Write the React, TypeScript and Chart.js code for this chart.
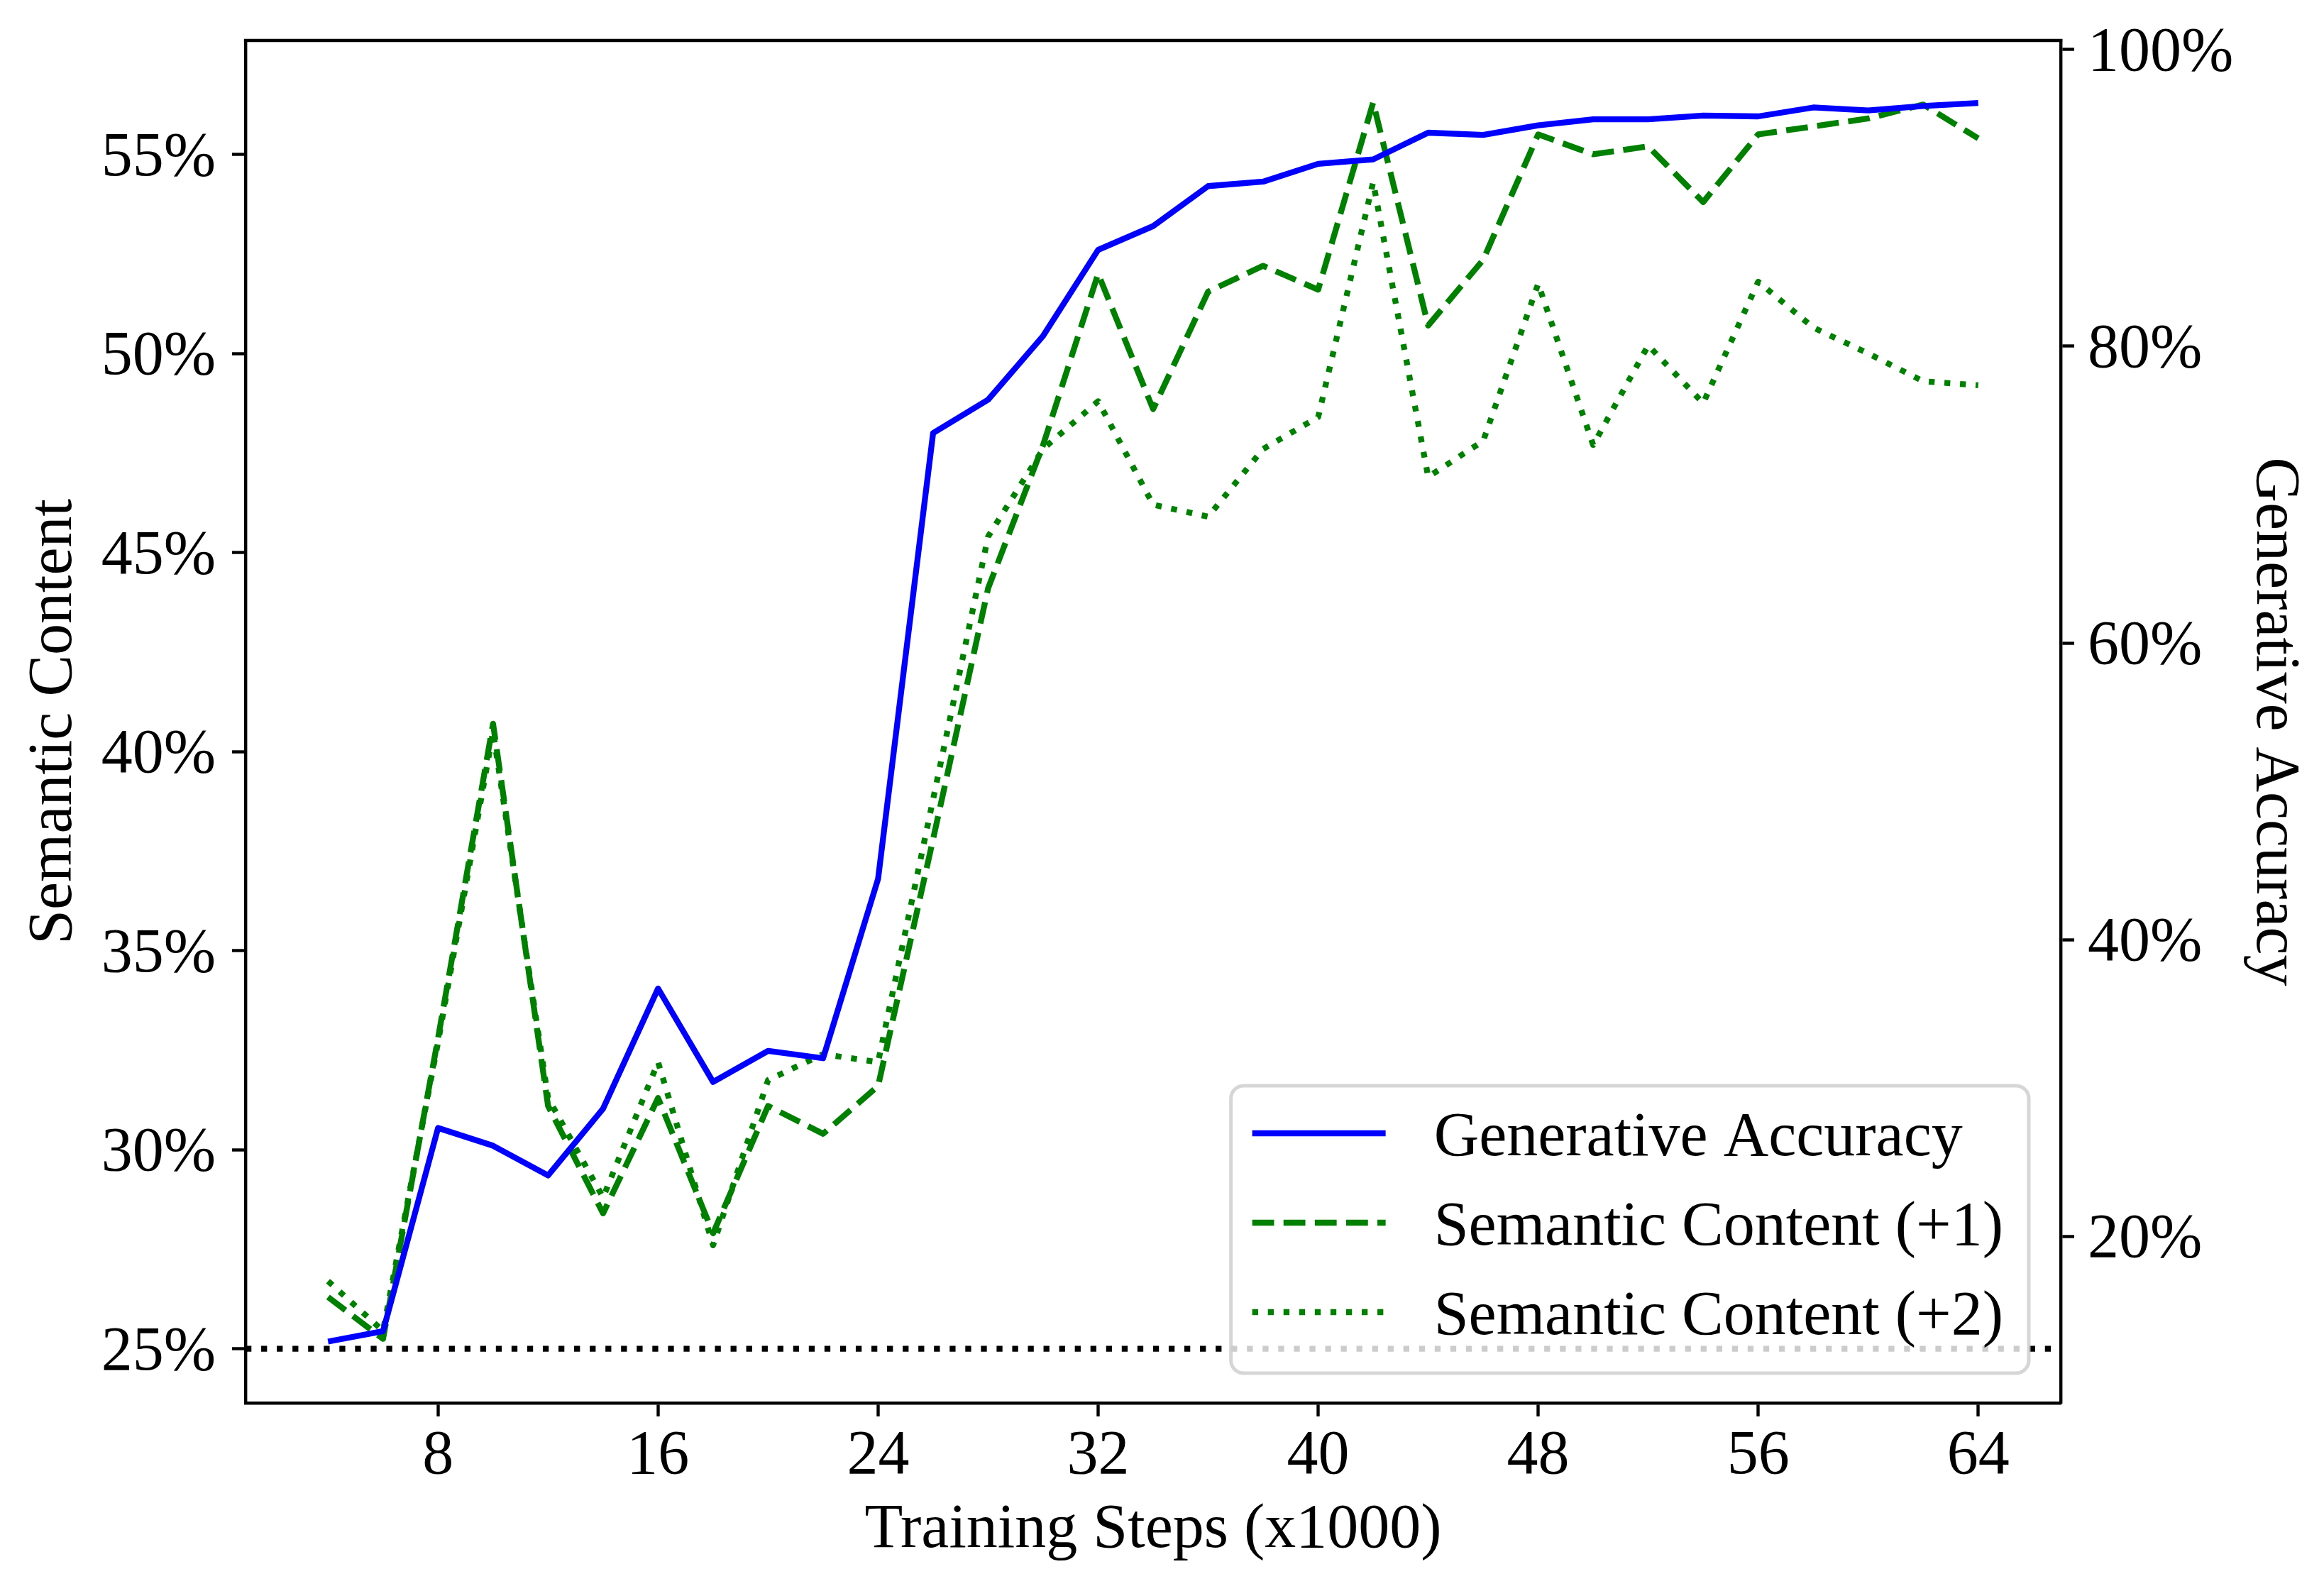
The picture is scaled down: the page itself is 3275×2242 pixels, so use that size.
import { useEffect, useRef } from 'react';
import { Chart, registerables } from 'chart.js';

Chart.register(...registerables);

// training steps (x1000), one point every 2k steps
const STEPS = [4, 6, 8, 10, 12, 14, 16, 18, 20, 22, 24, 26, 28, 30, 32, 34, 36, 38, 40, 42, 44, 46, 48, 50, 52, 54, 56, 58, 60, 62, 64];

// right axis, %
const GEN_ACCURACY = [12.9, 13.6, 27.3, 26.1, 24.1, 28.6, 36.7, 30.4, 32.5, 32.0, 44.1, 74.15, 76.4, 80.7, 86.5, 88.1, 90.8, 91.1, 92.3, 92.6, 94.4, 94.25, 94.9, 95.3, 95.3, 95.55, 95.5, 96.1, 95.9, 96.2, 96.4];

// left axis, %
const SEMANTIC_PLUS1 = [26.3, 25.25, 32.8, 40.7, 31.1, 28.4, 31.3, 27.9, 31.1, 30.4, 31.6, 37.8, 44.1, 47.7, 52.0, 48.6, 51.55, 52.2, 51.6, 56.3, 50.7, 52.35, 55.5, 55.0, 55.2, 53.8, 55.5, 55.7, 55.9, 56.25, 55.4];
const SEMANTIC_PLUS2 = [26.7, 25.45, 32.7, 40.5, 31.3, 28.8, 32.2, 27.6, 31.75, 32.4, 32.2, 38.8, 45.4, 47.6, 48.8, 46.2, 45.9, 47.6, 48.4, 54.3, 46.9, 47.8, 51.75, 47.7, 50.2, 48.75, 51.8, 50.65, 50.0, 49.3, 49.2];

const CHANCE_LEVEL = 25;

const X_TICKS = [8, 16, 24, 32, 40, 48, 56, 64];
const LEFT_TICKS = [25, 30, 35, 40, 45, 50, 55];
const RIGHT_TICKS = [20, 40, 60, 80, 100];

const X_MIN = 1;
const X_MAX = 67;

const FONT_FAMILY = '"Liberation Serif", "Times New Roman", Times, serif';
const FONT_SIZE = 88;
const LW = 8.3;
const DASHED = [30.8, 13.3];
const DOTTED = [8.3, 13.75];

const pts = (ys: number[]) => ys.map((y, i) => ({ x: STEPS[i], y }));

// fixed box sizes so the plot area sits where matplotlib put it
const fixBox = (size: { width?: number; height?: number }) => (s: any) => {
  if (size.width !== undefined) s.width = size.width;
  if (size.height !== undefined) s.height = size.height;
  s.paddingTop = 0;
  s.paddingBottom = 0;
  s.paddingLeft = 0;
  s.paddingRight = 0;
};

// top spine + matplotlib-style legend box (lower right)
const framePlugin = {
  id: 'frame',
  afterDraw(chart: any) {
    const { ctx, chartArea } = chart;
    const { left, right, top, bottom } = chartArea;
    ctx.save();
    ctx.strokeStyle = '#000';
    ctx.lineWidth = 4.4;
    ctx.beginPath();
    ctx.moveTo(left - 2.2, top);
    ctx.lineTo(right + 2.2, top);
    ctx.stroke();

    const items = chart.data.datasets.filter((d: any) => d.inLegend);
    ctx.font = `${FONT_SIZE}px ${FONT_FAMILY}`;
    const maxW = Math.max(...items.map((d: any) => ctx.measureText(d.label).width));
    const w = 30 + 188 + 68 + maxW + 36;
    const h = 405;
    const bx = right - 45 - w;
    const by = bottom - 42 - h;
    const r = 18;
    ctx.beginPath();
    ctx.moveTo(bx + r, by);
    ctx.arcTo(bx + w, by, bx + w, by + h, r);
    ctx.arcTo(bx + w, by + h, bx, by + h, r);
    ctx.arcTo(bx, by + h, bx, by, r);
    ctx.arcTo(bx, by, bx + w, by, r);
    ctx.closePath();
    ctx.fillStyle = 'rgba(255,255,255,0.8)';
    ctx.fill();
    ctx.strokeStyle = 'rgba(204,204,204,0.8)';
    ctx.lineWidth = 5;
    ctx.stroke();

    items.forEach((d: any, i: number) => {
      const y = by + 67 + i * 126;
      ctx.strokeStyle = d.borderColor;
      ctx.lineWidth = d.borderWidth;
      ctx.lineCap = 'butt';
      ctx.setLineDash(d.borderDash || []);
      ctx.beginPath();
      ctx.moveTo(bx + 30, y);
      ctx.lineTo(bx + 218, y);
      ctx.stroke();
      ctx.setLineDash([]);
      ctx.fillStyle = '#000';
      ctx.textAlign = 'left';
      ctx.textBaseline = 'alphabetic';
      ctx.fillText(d.label, bx + 286, y + 31);
    });
    ctx.restore();
  },
};

export default function App() {
  const canvasRef = useRef<HTMLCanvasElement>(null);

  useEffect(() => {
    if (!canvasRef.current) return;
    const font = { family: FONT_FAMILY, size: FONT_SIZE, lineHeight: 1.2 };
    const grid = {
      display: true,
      drawOnChartArea: false,
      drawTicks: true,
      tickLength: 19,
      tickWidth: 4.4,
      tickColor: '#000',
    };
    const border = { display: true, color: '#000', width: 4.4 };

    const chart = new Chart(canvasRef.current, {
      type: 'line',
      data: {
        datasets: [
          {
            label: 'Generative Accuracy',
            data: pts(GEN_ACCURACY),
            yAxisID: 'y2',
            borderColor: '#0000ff',
            borderWidth: LW,
            borderJoinStyle: 'round',
            pointRadius: 0,
            inLegend: true,
          } as any,
          {
            label: 'Semantic Content (+1)',
            data: pts(SEMANTIC_PLUS1),
            yAxisID: 'y',
            borderColor: '#008000',
            borderWidth: LW,
            borderDash: DASHED,
            borderCapStyle: 'butt',
            borderJoinStyle: 'round',
            pointRadius: 0,
            inLegend: true,
          },
          {
            label: 'Semantic Content (+2)',
            data: pts(SEMANTIC_PLUS2),
            yAxisID: 'y',
            borderColor: '#008000',
            borderWidth: LW,
            borderDash: DOTTED,
            borderCapStyle: 'butt',
            borderJoinStyle: 'round',
            pointRadius: 0,
            inLegend: true,
          },
          {
            label: 'chance',
            data: [
              { x: X_MIN, y: CHANCE_LEVEL },
              { x: X_MAX, y: CHANCE_LEVEL },
            ],
            yAxisID: 'y',
            borderColor: '#000',
            borderWidth: LW,
            borderDash: DOTTED,
            borderCapStyle: 'butt',
            pointRadius: 0,
          },
        ],
      },
      options: {
        animation: false,
        responsive: true,
        maintainAspectRatio: false,
        devicePixelRatio: 1,
        layout: { padding: { top: 57, left: 0, right: 0, bottom: 0 } },
        plugins: {
          legend: { display: false },
          tooltip: { enabled: false },
        },
        scales: {
          x: {
            type: 'linear',
            position: 'bottom',
            min: X_MIN,
            max: X_MAX,
            afterBuildTicks: (s: any) => {
              s.ticks = X_TICKS.map((value) => ({ value }));
            },
            afterFit: fixBox({ height: 265 }),
            ticks: { font, color: '#000', padding: 4, maxRotation: 0, autoSkip: false },
            grid,
            border,
            title: {
              display: true,
              text: 'Training Steps (x1000)',
              font,
              color: '#000',
              padding: { top: 0, bottom: 32 },
            },
          },
          y: {
            type: 'linear',
            position: 'left',
            min: 23.64,
            max: 57.86,
            afterBuildTicks: (s: any) => {
              s.ticks = LEFT_TICKS.map((value) => ({ value }));
            },
            afterFit: fixBox({ width: 346 }),
            ticks: {
              font,
              color: '#000',
              padding: 23,
              labelOffset: 6,
              callback: (v: any) => `${v}%`,
            },
            grid,
            border,
            title: {
              display: true,
              text: 'Semantic Content',
              font,
              color: '#000',
              padding: { top: 24, bottom: 0 },
            },
          },
          y2: {
            type: 'linear',
            position: 'right',
            min: 8.76,
            max: 100.62,
            afterBuildTicks: (s: any) => {
              s.ticks = RIGHT_TICKS.map((value) => ({ value }));
            },
            afterFit: fixBox({ width: 371 }),
            ticks: {
              font,
              color: '#000',
              padding: 19,
              labelOffset: 6,
              callback: (v: any) => `${v}%`,
            },
            grid,
            border,
            title: {
              display: true,
              text: 'Generative Accuracy',
              font,
              color: '#000',
              padding: { top: 18, bottom: 0 },
            },
          },
        },
      },
      plugins: [framePlugin],
    });

    return () => chart.destroy();
  }, []);

  return (
    <div style={{ position: 'fixed', left: 0, top: 0, width: '3275px', height: '2242px', background: '#fff' }}>
      <canvas ref={canvasRef} />
    </div>
  );
}
